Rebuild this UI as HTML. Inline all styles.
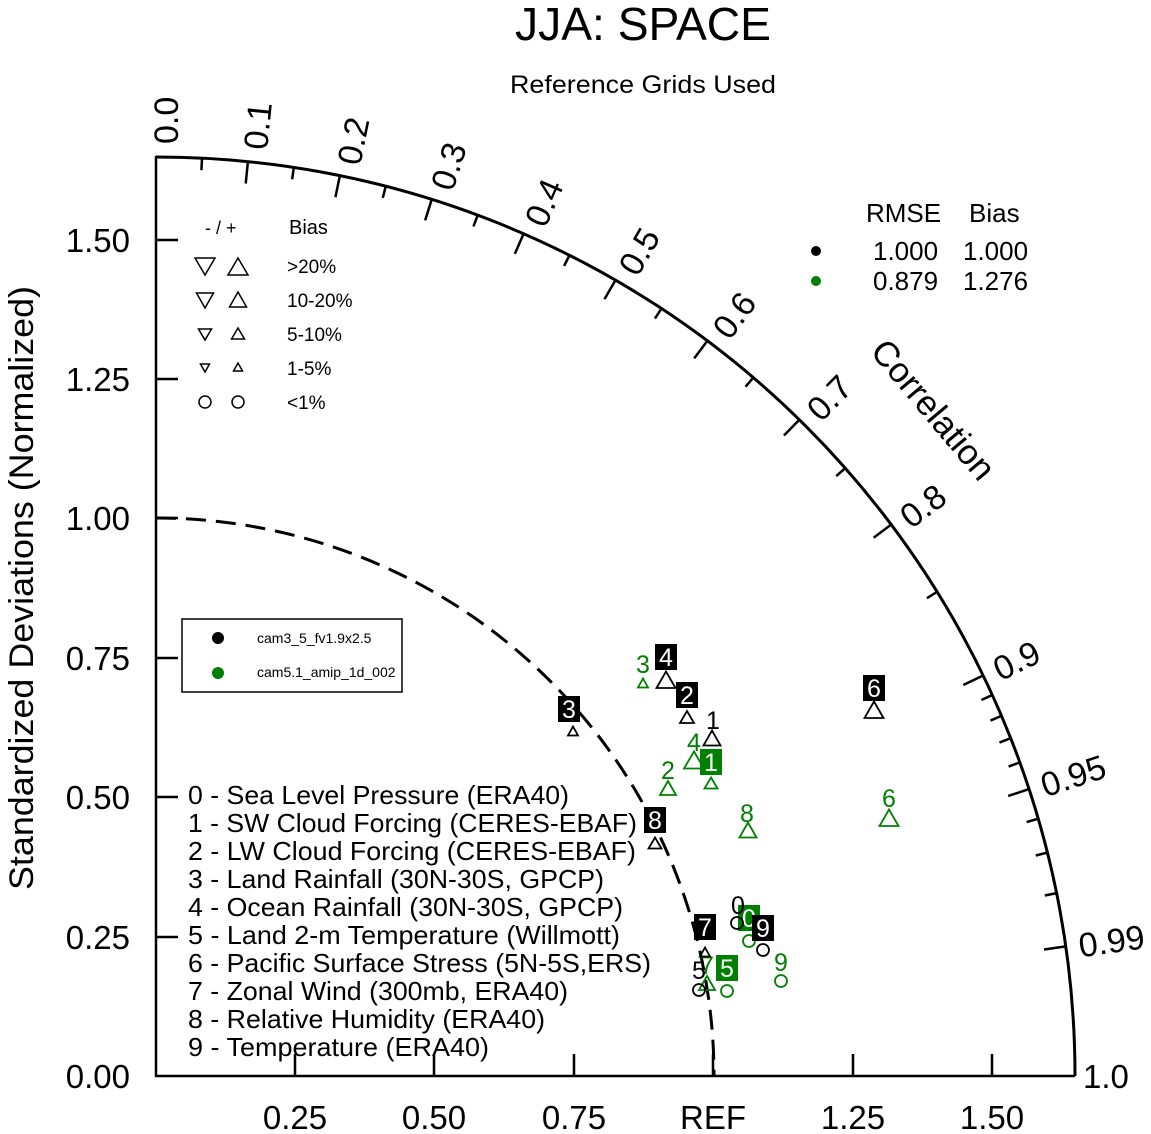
<!DOCTYPE html>
<html><head><meta charset="utf-8"><style>
html,body{margin:0;padding:0;background:#fff;}
svg{display:block;font-family:"Liberation Sans",Arial,sans-serif;}
</style></head><body>
<svg width="1151" height="1134" viewBox="0 0 1151 1134" xmlns="http://www.w3.org/2000/svg">
<rect width="1151" height="1134" fill="#fff"/>
<text x="643" y="40" font-size="46" text-anchor="middle" textLength="256" lengthAdjust="spacingAndGlyphs">JJA: SPACE</text>
<text x="643" y="93" font-size="25" text-anchor="middle" textLength="266" lengthAdjust="spacingAndGlyphs">Reference Grids Used</text>
<text transform="translate(22,588) rotate(-90)" font-size="34" text-anchor="middle" dominant-baseline="central" textLength="604" lengthAdjust="spacingAndGlyphs">Standardized Deviations (Normalized)</text>

<!-- axes -->
<g stroke="#000" stroke-width="2.5" fill="none">
<path d="M156,156 V1076 H1075"/>
<path d="M156,157 A919,919 0 0 1 1075,1076" stroke-width="3"/>
<path d="M156,518 A558,558 0 0 1 714,1076" stroke-width="3" stroke-dasharray="20,10"/>
<path d="M156,937 h22 M156,797 h22 M156,658 h22 M156,518 h22 M156,379 h22 M156,240 h22"/>
<path d="M295,1076 v-22 M434,1076 v-22 M574,1076 v-22 M713,1076 v-22 M853,1076 v-22 M992,1076 v-22"/>
</g>
<g transform="translate(156,1076)" stroke="#000" stroke-width="2.5">
<line x1="897" x2="919" transform="rotate(-84.26)"/>
<line x1="897" x2="919" transform="rotate(-78.46)"/>
<line x1="897" x2="919" transform="rotate(-72.54)"/>
<line x1="897" x2="919" transform="rotate(-66.42)"/>
<line x1="897" x2="919" transform="rotate(-60)"/>
<line x1="897" x2="919" transform="rotate(-53.13)"/>
<line x1="897" x2="919" transform="rotate(-45.57)"/>
<line x1="897" x2="919" transform="rotate(-36.87)"/>
<line x1="897" x2="919" transform="rotate(-25.84)"/>
<line x1="897" x2="919" transform="rotate(-18.19)"/>
<line x1="897" x2="919" transform="rotate(-8.11)"/>
<line x1="907" x2="919" transform="rotate(-87.13)"/>
<line x1="907" x2="919" transform="rotate(-81.37)"/>
<line x1="907" x2="919" transform="rotate(-75.52)"/>
<line x1="907" x2="919" transform="rotate(-69.51)"/>
<line x1="907" x2="919" transform="rotate(-63.26)"/>
<line x1="907" x2="919" transform="rotate(-56.63)"/>
<line x1="907" x2="919" transform="rotate(-49.46)"/>
<line x1="907" x2="919" transform="rotate(-41.41)"/>
<line x1="907" x2="919" transform="rotate(-31.79)"/>
<line x1="907" x2="919" transform="rotate(-24.49)"/>
<line x1="907" x2="919" transform="rotate(-23.07)"/>
<line x1="907" x2="919" transform="rotate(-21.57)"/>
<line x1="907" x2="919" transform="rotate(-19.95)"/>
<line x1="907" x2="919" transform="rotate(-16.26)"/>
<line x1="907" x2="919" transform="rotate(-14.07)"/>
<line x1="907" x2="919" transform="rotate(-11.48)"/>
</g>
<g transform="translate(156,1076)" font-size="34">
<text transform="rotate(-90) translate(932,22)">0.0</text>
<text transform="rotate(-84.26) translate(932,18)">0.1</text>
<text transform="rotate(-78.46) translate(932,18)">0.2</text>
<text transform="rotate(-72.54) translate(932,18)">0.3</text>
<text transform="rotate(-66.42) translate(932,18)">0.4</text>
<text transform="rotate(-60) translate(932,18)">0.5</text>
<text transform="rotate(-53.13) translate(932,18)">0.6</text>
<text transform="rotate(-45.57) translate(932,18)">0.7</text>
<text transform="rotate(-36.87) translate(932,16)">0.8</text>
<text transform="rotate(-25.84) translate(932,13)">0.9</text>
<text transform="rotate(-18.19) translate(932,13)">0.95</text>
<text transform="rotate(-8.11) translate(932,13)">0.99</text>
</g>
<text x="1083" y="1088" font-size="33">1.0</text>
<text transform="translate(933,410) rotate(50)" font-size="35" text-anchor="middle" dominant-baseline="central">Correlation</text>

<g font-size="33" text-anchor="end">
<text x="130" y="1088">0.00</text>
<text x="130" y="949">0.25</text>
<text x="130" y="809">0.50</text>
<text x="130" y="670">0.75</text>
<text x="130" y="530">1.00</text>
<text x="130" y="391">1.25</text>
<text x="130" y="252">1.50</text>
</g>
<g font-size="33" text-anchor="middle">
<text x="295" y="1129">0.25</text>
<text x="434" y="1129">0.50</text>
<text x="574" y="1129">0.75</text>
<text x="713" y="1129">REF</text>
<text x="853" y="1129">1.25</text>
<text x="992" y="1129">1.50</text>
</g>

<!-- bias legend -->
<text x="205" y="234" font-size="18">- / +</text>
<text x="289" y="234" font-size="20">Bias</text>
<g fill="none" stroke="#000" stroke-width="1.5">
<path d="M195,258 h20 l-10,17 z M238,258 l10,17 h-20 z"/>
<path d="M196.5,293 h17 l-8.5,15 z M238,292 l8.5,15 h-17 z"/>
<path d="M198.5,329 h13 l-6.5,11 z M238,328 l6.5,11 h-13 z"/>
<path d="M200.5,364 h9 l-4.5,8 z M238,363 l4.5,8 h-9 z"/>
<circle cx="205" cy="402" r="6"/><circle cx="238" cy="402" r="6"/>
</g>
<g font-size="19">
<text x="287" y="273">&gt;20%</text>
<text x="287" y="307">10-20%</text>
<text x="287" y="341">5-10%</text>
<text x="287" y="375">1-5%</text>
<text x="287" y="409">&lt;1%</text>
</g>

<!-- RMSE legend -->
<g font-size="26">
<text x="866" y="222">RMSE</text><text x="969" y="222">Bias</text>
<text x="873" y="260">1.000</text><text x="963" y="260">1.000</text>
<text x="873" y="290">0.879</text><text x="963" y="290">1.276</text>
</g>
<circle cx="816" cy="251" r="5" fill="#000"/>
<circle cx="816" cy="281" r="5" fill="#008000"/>

<!-- model legend -->
<rect x="182" y="619" width="220" height="73" fill="#fff" stroke="#000" stroke-width="1.5"/>
<circle cx="218" cy="638" r="6" fill="#000"/>
<circle cx="218" cy="673" r="6" fill="#008000"/>
<text x="257" y="643" font-size="14">cam3_5_fv1.9x2.5</text>
<text x="257" y="677" font-size="14">cam5.1_amip_1d_002</text>

<!-- case list -->
<g font-size="26" lengthAdjust="spacingAndGlyphs">
<text x="188" y="804" textLength="381" lengthAdjust="spacingAndGlyphs">0 - Sea Level Pressure (ERA40)</text>
<text x="188" y="832" textLength="449" lengthAdjust="spacingAndGlyphs">1 - SW Cloud Forcing (CERES-EBAF)</text>
<text x="188" y="860" textLength="448" lengthAdjust="spacingAndGlyphs">2 - LW Cloud Forcing (CERES-EBAF)</text>
<text x="188" y="888" textLength="416" lengthAdjust="spacingAndGlyphs">3 - Land Rainfall (30N-30S, GPCP)</text>
<text x="188" y="916" textLength="435" lengthAdjust="spacingAndGlyphs">4 - Ocean Rainfall (30N-30S, GPCP)</text>
<text x="188" y="944" textLength="432" lengthAdjust="spacingAndGlyphs">5 - Land 2-m Temperature (Willmott)</text>
<text x="188" y="972" textLength="463" lengthAdjust="spacingAndGlyphs">6 - Pacific Surface Stress (5N-5S,ERS)</text>
<text x="188" y="1000" textLength="380" lengthAdjust="spacingAndGlyphs">7 - Zonal Wind (300mb, ERA40)</text>
<text x="188" y="1028" textLength="357" lengthAdjust="spacingAndGlyphs">8 - Relative Humidity (ERA40)</text>
<text x="188" y="1056" textLength="301" lengthAdjust="spacingAndGlyphs">9 - Temperature (ERA40)</text>
</g>

<!-- green markers -->
<g fill="none" stroke="#008000" stroke-width="1.8">
<path d="M711,777.5 l6.5,11 h-13z"/>
<path d="M668,781 l8,14 h-16z"/>
<path d="M643,678.5 l5,9 h-10z"/>
<path d="M694,751.5 l10,17 h-20z"/>
<path d="M889,809.5 l9.5,16.5 h-19z"/>
<path d="M707,976 l8,14 h-16z"/>
<path d="M748,822.5 l8.5,15 h-17z"/>
<circle cx="749" cy="941" r="6"/><circle cx="727" cy="991" r="6"/><circle cx="781" cy="981" r="6"/>
</g>
<g font-size="25" text-anchor="middle" fill="#008000">
<text x="668" y="779">2</text><text x="643" y="673">3</text><text x="694" y="751">4</text>
<text x="889" y="807">6</text><text x="707" y="974">7</text><text x="747" y="822">8</text><text x="781" y="971">9</text>
</g>
<g fill="#008000"><rect x="738" y="905" width="22" height="26"/><rect x="700" y="749" width="22" height="26"/><rect x="716" y="955" width="22" height="26"/></g>
<g font-size="25" text-anchor="middle" fill="#fff">
<text x="749" y="927">0</text><text x="711" y="771">1</text><text x="727" y="977">5</text>
</g>

<!-- black markers -->
<g fill="none" stroke="#000" stroke-width="1.8">
<path d="M712,730.5 l8.5,15 h-17z"/>
<path d="M687,711 l7,12 h-14z"/>
<path d="M573,726.5 l5,9 h-10z"/>
<path d="M666,671.5 l9.5,16.5 h-19z"/>
<path d="M874,701.5 l9.5,16.5 h-19z"/>
<path d="M705,947.5 l5,9 h-10z"/>
<path d="M655,837.5 l6.5,11 h-13z"/>
<circle cx="737" cy="923" r="6"/><circle cx="699" cy="990" r="6"/><circle cx="763" cy="950" r="6"/>
</g>
<g font-size="25" text-anchor="middle" fill="#000">
<text x="738" y="914">0</text><text x="713" y="729">1</text><text x="699" y="979">5</text>
</g>
<g fill="#000">
<rect x="676" y="682" width="22" height="26"/><rect x="558" y="696" width="22" height="26"/>
<rect x="655" y="644" width="22" height="26"/><rect x="863" y="675" width="22" height="26"/>
<rect x="694" y="914" width="22" height="26"/><rect x="644" y="807" width="22" height="26"/>
<rect x="752" y="915" width="22" height="26"/>
</g>
<g font-size="25" text-anchor="middle" fill="#fff">
<text x="687" y="704">2</text><text x="569" y="718">3</text><text x="666" y="666">4</text>
<text x="874" y="697">6</text><text x="705" y="936">7</text><text x="655" y="829">8</text><text x="763" y="937">9</text>
</g>
</svg>
</body></html>
